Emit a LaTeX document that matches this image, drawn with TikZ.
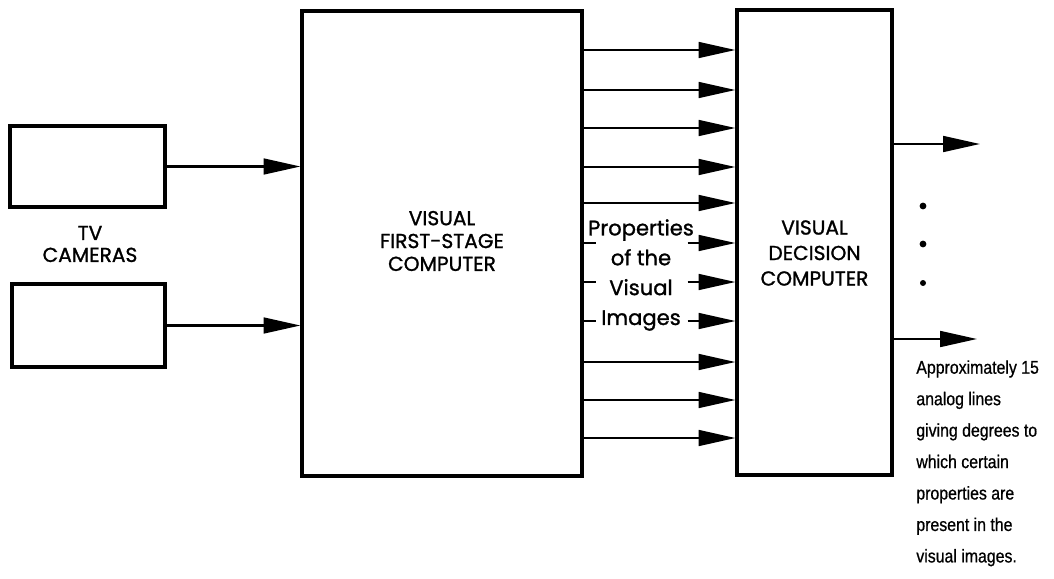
\documentclass[tikz,border=0pt]{standalone}
\usepackage{fontspec}
\newfontfamily\blockfont[FakeBold=1.2]{Poppins}
\newfontfamily\notefont[FakeStretch=0.86, FakeBold=0.7]{Liberation Sans}
\usetikzlibrary{arrows.meta}

\begin{document}
\begin{tikzpicture}[x=0.02cm, y=-0.02cm,
  box/.style={draw, line width=1.8pt, inner sep=0pt},
  flow/.style={line width=1.3pt, -{Triangle[length=21pt, width=9pt]}},
  stub/.style={line width=1.3pt},
  caps/.style={font=\blockfont\fontsize{11.5}{13}\selectfont, align=center}]

\useasboundingbox (0,0) rectangle (1054,578);

% ===== TV cameras =====
\node[box, minimum width=3.1cm, minimum height=1.62cm] (cam1) at (87.5,166.5) {};
\node[box, minimum width=3.06cm, minimum height=1.66cm] (cam2) at (88.5,325.5) {};
\node[caps, font=\blockfont\fontsize{11.5}{12.5}\selectfont] (camtext) at (90,244) {TV\\CAMERAS};

% ===== Main blocks =====
\node[box, minimum width=5.6cm, minimum height=9.3cm] (fsc) at (442,243.5) {};
\node[caps] (fsctext) at (442,241) {VISUAL\\FIRST-STAGE\\COMPUTER};
\node[box, minimum width=3.1cm, minimum height=9.3cm] (dec) at (814.5,242.5) {};
\node[caps, font=\blockfont\fontsize{11.5}{14.5}\selectfont] (dectext) at (814.5,253) {VISUAL\\DECISION\\COMPUTER};

% cameras into the first stage
\draw[flow] (cam1.east) -- (fsc.west |- cam1.east);
\draw[flow] (cam2.east) -- (fsc.west |- cam2.east);

% ----- property lines between the two computers -----
\foreach \y in {50,90,128,167,203,362,400,438}
  \draw[flow] (fsc.east |- 0,\y) -- (dec.west |- 0,\y);

\node[caps, font=\blockfont\fontsize{12}{17}\selectfont, inner xsep=2pt]
  (props) at (641,275) {Properties\\of the\\Visual\\Images};
\foreach \y in {243,282,321} {
  \draw[stub] (fsc.east |- 0,\y) -- ([xshift=0.24cm]props.west |- 0,\y);
  \draw[flow] ([xshift=-0.2cm]props.east |- 0,\y) -- (dec.west |- 0,\y);
}

% ===== Outputs =====
\coordinate (out1) at (980,144);
\coordinate (out2) at (977,339);
\draw[flow] (dec.east |- out1) -- (out1);
\draw[flow] (dec.east |- out2) -- (out2);
\fill (923,206) circle (3.4);
\fill (923,244) circle (3.4);
\fill (923,283) circle (3);

\node[anchor=north west, align=left, inner sep=0pt,
  font=\notefont\fontsize{10.5}{17.9}\selectfont] (note) at (916,360)
  {Approximately 15\\analog lines\\giving degrees to\\which certain\\properties are\\present in the\\visual images.};

\end{tikzpicture}
\end{document}
